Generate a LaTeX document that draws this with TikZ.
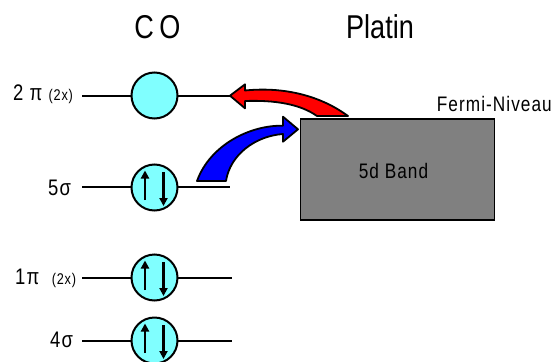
\documentclass[tikz,border=0pt]{standalone}
\usepackage{fontspec}
\setmainfont{Liberation Sans}[FakeStretch=0.82]
\newfontfamily\spacedfont{Liberation Sans}[FakeStretch=0.82, LetterSpace=5]
\usetikzlibrary{arrows.meta}
\definecolor{orbcyan}{RGB}{128,255,255}
\definecolor{bandgray}{RGB}{128,128,128}
\newcommand{\smallx}[1]{{\fontsize{15.5}{17}\selectfont #1}}
\tikzset{
  level/.style={line width=2pt},
  orbital/.style={circle, draw, line width=2pt, fill=orbcyan, minimum size=46pt, inner sep=0pt},
  spin/.style={line width=2.8pt, -{Triangle[width=8pt,length=8pt]}},
  fatarrow/.style={draw, line width=1.8pt, line join=round},
  big/.style={inner sep=0pt, font=\fontsize{33}{36}\selectfont},
  lab/.style={inner sep=0pt, font=\spacedfont\fontsize{21}{24}\selectfont},
  lvl/.style={inner sep=0pt, font=\spacedfont\fontsize{22.5}{25}\selectfont},
}
\begin{document}
\begin{tikzpicture}[x=1pt,y=-1pt]
\useasboundingbox (0,0) rectangle (553,361);
% titles
\node[big, anchor=base] (co) at (157.5,39) {C\,O};
\node[big, anchor=base] (pt) at (380,39) {Platin};
% level lines
\coordinate (a1) at (82,95.5);  \coordinate (b1) at (230,95.5);
\coordinate (a2) at (82,186.5); \coordinate (b2) at (230,186.5);
\coordinate (a3) at (82,277.5); \coordinate (b3) at (232,277.5);
\coordinate (a4) at (82,340.5); \coordinate (b4) at (232,340.5);
\draw[level] (a1) -- (b1);
\draw[level] (a2) -- (b2);
\draw[level] (a3) -- (b3);
\draw[level] (a4) -- (b4);
% labels
\node[lvl, anchor=base west] (l1) at (13,100) {2 π\ \smallx{(2x)}};
\node[lvl, anchor=base west] (l2) at (48,195) {5σ};
\node[lvl, anchor=base west] (l3) at (15,284) {1π\ \ \smallx{(2x)}};
\node[lvl, anchor=base west] (l4) at (50,347) {4σ};
% orbitals
\node[orbital] (o1) at (154.5,95.5) {};
\node[orbital] (o2) at (154.5,187.5) {};
\node[orbital] (o3) at (154.5,277.5) {};
\node[orbital] (o4) at (154.5,340.5) {};
\foreach \o in {o2,o3,o4}{
  \draw[spin] ([shift={(-9.5,12.5)}]\o.center) -- ([shift={(-9.5,-17)}]\o.center);
  \draw[spin] ([shift={(9,-15.5)}]\o.center) -- ([shift={(9,18.5)}]\o.center);
}
% band
\node[draw, fill=bandgray, line width=1.3pt, minimum width=194pt, minimum height=101pt, inner sep=0pt] (band) at (397.7,169.5) {};
\node[lab, anchor=base] (bl) at (393.5,178) {5d Band};
\node[lab, anchor=base east] (fermi) at (552,111.7) {Fermi-Niveau};
% red arrow (back-donation)
\draw[fatarrow, fill=red] (230,95.7) -- (245,84.3) -- (245,90.5)
  .. controls (290,86) and (325,99) .. (348,116) -- (317,116)
  .. controls (300,104) and (275,100) .. (245,101) -- (245,108.3) -- cycle;
% blue arrow (donation)
\draw[fatarrow, fill=blue] (298,129.3) -- (283,116.7) -- (283,125.7)
  .. controls (250,125) and (210,145) .. (197,181) -- (226,181)
  .. controls (230,155) and (255,136) .. (283,134) -- (283,141.7) -- cycle;
\end{tikzpicture}
\end{document}
